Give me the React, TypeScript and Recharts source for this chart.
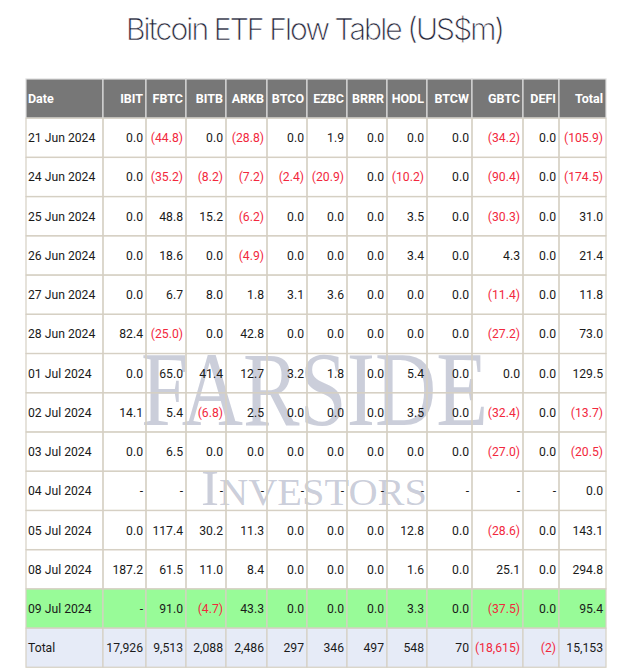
import React from 'react';
import { BarChart, Bar, XAxis, YAxis, Customized } from 'recharts';

// ---------- data ----------
const TITLE = 'Bitcoin ETF Flow Table (US$m)';
const TICKERS = ['IBIT', 'FBTC', 'BITB', 'ARKB', 'BTCO', 'EZBC', 'BRRR', 'HODL', 'BTCW', 'GBTC', 'DEFI', 'Total'];
const DATES = [
  '21 Jun 2024', '24 Jun 2024', '25 Jun 2024', '26 Jun 2024', '27 Jun 2024', '28 Jun 2024',
  '01 Jul 2024', '02 Jul 2024', '03 Jul 2024', '04 Jul 2024', '05 Jul 2024', '08 Jul 2024', '09 Jul 2024',
];
const IBIT = [0.0, 0.0, 0.0, 0.0, 0.0, 82.4, 0.0, 14.1, 0.0, null, 0.0, 187.2, null];
const FBTC = [-44.8, -35.2, 48.8, 18.6, 6.7, -25.0, 65.0, 5.4, 6.5, null, 117.4, 61.5, 91.0];
const BITB = [0.0, -8.2, 15.2, 0.0, 8.0, 0.0, 41.4, -6.8, 0.0, null, 30.2, 11.0, -4.7];
const ARKB = [-28.8, -7.2, -6.2, -4.9, 1.8, 42.8, 12.7, 2.5, 0.0, null, 11.3, 8.4, 43.3];
const BTCO = [0.0, -2.4, 0.0, 0.0, 3.1, 0.0, 3.2, 0.0, 0.0, null, 0.0, 0.0, 0.0];
const EZBC = [1.9, -20.9, 0.0, 0.0, 3.6, 0.0, 1.8, 0.0, 0.0, null, 0.0, 0.0, 0.0];
const BRRR = [0.0, 0.0, 0.0, 0.0, 0.0, 0.0, 0.0, 0.0, 0.0, null, 0.0, 0.0, 0.0];
const HODL = [0.0, -10.2, 3.5, 3.4, 0.0, 0.0, 5.4, 3.5, 0.0, null, 12.8, 1.6, 3.3];
const BTCW = [0.0, 0.0, 0.0, 0.0, 0.0, 0.0, 0.0, 0.0, 0.0, null, 0.0, 0.0, 0.0];
const GBTC = [-34.2, -90.4, -30.3, 4.3, -11.4, -27.2, 0.0, -32.4, -27.0, null, -28.6, 25.1, -37.5];
const DEFI = [0.0, 0.0, 0.0, 0.0, 0.0, 0.0, 0.0, 0.0, 0.0, null, 0.0, 0.0, 0.0];
const TOTAL = [-105.9, -174.5, 31.0, 21.4, 11.8, 73.0, 129.5, -13.7, -20.5, 0.0, 143.1, 294.8, 95.4];
const CUMULATIVE = [17926, 9513, 2088, 2486, 297, 346, 497, 548, 70, -18615, -2, 15153];
const HIGHLIGHT_DATE = '09 Jul 2024';

// ---------- layout / style ----------
const COL_W = [77, 43, 40, 40, 41, 40, 40, 40, 40, 45, 51, 36, 47];
const TABLE_W = COL_W.reduce((a, b) => a + b, 0);
const FONT = 'Roboto, "Liberation Sans", Arial, sans-serif';
const FS = 12.2;
const RED = '#f2283d';
const BORDER = '#d6d0c4';
const HEADER_BG = '#777777';
const GREEN = '#98fb98';
const TOTAL_BG = '#e6ebf7';

const SERIES = [IBIT, FBTC, BITB, ARKB, BTCO, EZBC, BRRR, HODL, BTCW, GBTC, DEFI, TOTAL];

type CellT = { text: string; neg: boolean };
const fmtDay = (v: number | null): CellT =>
  v === null ? { text: '-', neg: false } : v < 0 ? { text: `(${Math.abs(v).toFixed(1)})`, neg: true } : { text: v.toFixed(1), neg: false };
const fmtTot = (v: number): CellT => {
  const s = Math.abs(v).toLocaleString('en-US');
  return v < 0 ? { text: `(${s})`, neg: true } : { text: s, neg: false };
};

const rows = [
  { label: 'Date', kind: 'header', cells: TICKERS.map((t) => ({ text: t, neg: false })) },
  ...DATES.map((d, i) => ({
    label: d,
    kind: d === HIGHLIGHT_DATE ? 'hl' : 'row',
    cells: SERIES.map((s) => fmtDay(s[i])),
  })),
  { label: 'Total', kind: 'total', cells: CUMULATIVE.map(fmtTot) },
];

const makeCell = (col: number) => (props: any) => {
  const { x, y, width, height, payload } = props;
  if (width == null || height == null) return <g />;
  const kind = payload.kind;
  const fill = kind === 'header' ? HEADER_BG : kind === 'hl' ? GREEN : kind === 'total' ? TOTAL_BG : 'none';
  const isHeader = kind === 'header';
  const cell: CellT = col === 0 ? { text: payload.label, neg: false } : payload.cells[col - 1];
  const color = isHeader ? '#ffffff' : cell.neg ? RED : '#1a1a1a';
  const ty = y + height / 2 + 4.5;
  return (
    <g>
      <rect x={x} y={y} width={width} height={height} fill={fill} stroke={isHeader ? '#dcdcdc' : BORDER} strokeWidth={1.2} />
      <text
        x={col === 0 ? x + 2 : x + width - 3}
        y={ty}
        textAnchor={col === 0 ? 'start' : 'end'}
        fontFamily={FONT}
        fontSize={isHeader ? 12.5 : FS}
        fontWeight={isHeader ? 700 : 400}
        fill={color}
      >
        {cell.text}
      </text>
    </g>
  );
};

const Overlay = () => (
  <g>
    <text
      x={315.5}
      y={40}
      textAnchor="middle"
      fontFamily='Inter, Roboto, sans-serif'
      fontWeight={300}
      fontSize={30}
      fill="#1e2135"
      stroke="#ffffff"
      strokeWidth={0.5}
      textLength={379}
    >
      {TITLE}
    </text>
    <g fill="#8c93ad" fillOpacity={0.45} fontFamily='"Liberation Serif", "DejaVu Serif", serif'>
      <text x={141} y={425} fontSize={106} textLength={347} lengthAdjust="spacingAndGlyphs">FARSIDE</text>
      <text x={201} y={505} fontSize={51} textLength={226} lengthAdjust="spacingAndGlyphs">
        I<tspan fontSize={38}>NVESTORS</tspan>
      </text>
    </g>
  </g>
);

export default function App() {
  return (
    <div style={{ position: 'absolute', left: 0, top: 0, width: 635, height: 669, background: '#fff' }}>
      <BarChart
        width={635}
        height={669}
        data={rows}
        layout="vertical"
        barCategoryGap={0}
        margin={{ top: 79, right: 29, bottom: 1.5, left: 26 }}
      >
        <XAxis type="number" hide domain={[0, TABLE_W]} />
        <YAxis type="category" dataKey="label" hide />
        {COL_W.map((w, i) => (
          <Bar
            key={i}
            dataKey={() => w}
            stackId="t"
            shape={makeCell(i)}
            isAnimationActive={false}
          />
        ))}
        <Customized component={Overlay} />
      </BarChart>
    </div>
  );
}
